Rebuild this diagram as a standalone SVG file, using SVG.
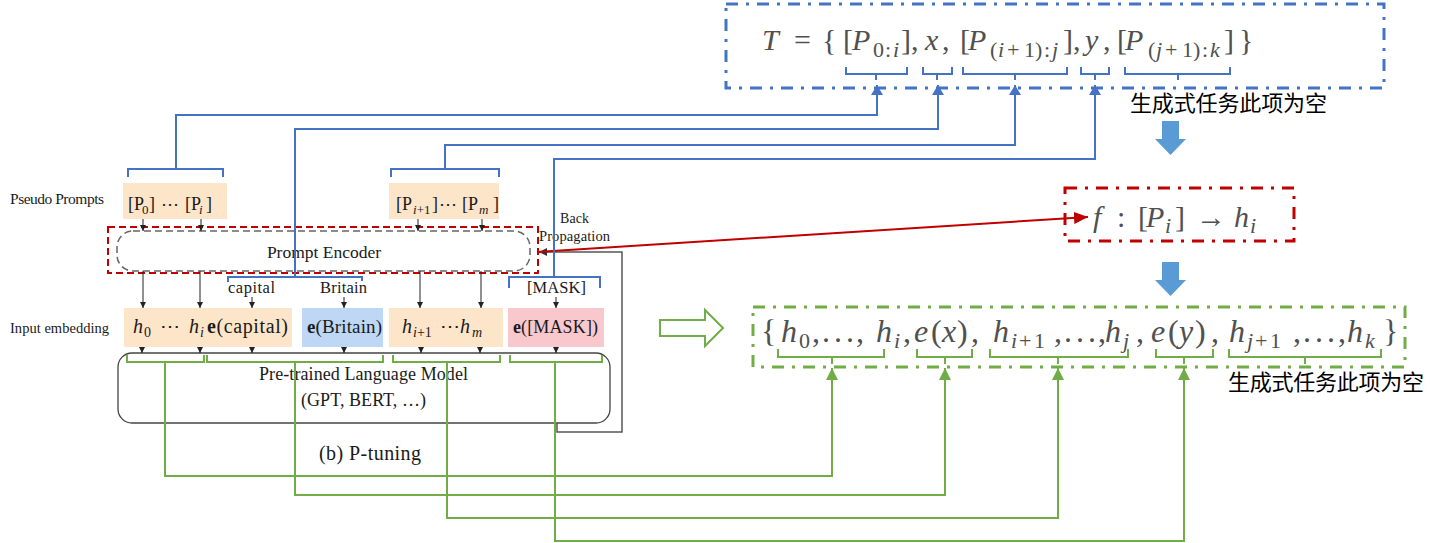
<svg xmlns="http://www.w3.org/2000/svg" width="1443" height="543" viewBox="0 0 1443 543">
<defs>
<style>
.serif{font-family:"Liberation Serif","DejaVu Serif",serif;fill:#1a1a1a}
.math{font-family:"Liberation Serif","DejaVu Serif",serif;fill:#505050}
.it{font-style:italic}
.sb{font-size:22px}
.cjk{font-family:"Noto Sans CJK SC",sans-serif;font-size:22px;fill:#000}
.blue{stroke:#4472c4;stroke-width:2;fill:none}
.green{stroke:#70ad47;stroke-width:2;fill:none}
.blk{stroke:#222;stroke-width:1;fill:none}
.dd{stroke-width:3;fill:none;stroke-dasharray:12 8 3 8}
</style>
<marker id="ab" viewBox="0 0 10 12" refX="10" refY="6" markerWidth="10" markerHeight="12" markerUnits="userSpaceOnUse" orient="auto"><path d="M0,0L10,6L0,12z" fill="#4472c4"/></marker>
<marker id="ag" viewBox="0 0 12 12" refX="12" refY="6" markerWidth="12" markerHeight="12" markerUnits="userSpaceOnUse" orient="auto"><path d="M0,0L12,6L0,12z" fill="#70ad47"/></marker>
<marker id="ak" viewBox="0 0 6 6" refX="6" refY="3" markerWidth="6" markerHeight="6" markerUnits="userSpaceOnUse" orient="auto"><path d="M0,0L6,3L0,6z" fill="#222"/></marker>
<marker id="ar" viewBox="0 0 14 12" refX="14" refY="6" markerWidth="14" markerHeight="12" markerUnits="userSpaceOnUse" orient="auto"><path d="M0,0L14,6L0,12z" fill="#c00000"/></marker>
<marker id="ag2" viewBox="0 0 8 8" refX="8" refY="4" markerWidth="8" markerHeight="8" markerUnits="userSpaceOnUse" orient="auto"><path d="M0,0L8,4L0,8z" fill="#333"/></marker>
</defs>
<rect width="1443" height="543" fill="#fff"/>

<!-- Top formula node -->
<g id="template-T">
<rect x="726" y="4" width="658" height="84" stroke="#4472c4" class="dd"/>
<text class="math" font-size="30"><tspan x="762" y="50" class="it">T</tspan><tspan x="794" y="50">=</tspan><tspan x="822" y="50">{</tspan><tspan x="843" y="50">[</tspan><tspan x="852" y="50" class="it">P</tspan><tspan x="873" y="57" class="sb">0</tspan><tspan x="885" y="57" class="sb">:</tspan><tspan x="893" y="57" class="sb it">i</tspan><tspan x="901" y="50">]</tspan><tspan x="911" y="50">,</tspan><tspan x="925" y="50" class="it">x</tspan><tspan x="942" y="50">,</tspan><tspan x="960" y="50">[</tspan><tspan x="968" y="50" class="it">P</tspan><tspan x="990" y="57" class="sb">(</tspan><tspan x="998" y="57" class="sb it">i</tspan><tspan x="1007" y="57" class="sb">+</tspan><tspan x="1024" y="57" class="sb">1</tspan><tspan x="1035" y="57" class="sb">)</tspan><tspan x="1044" y="57" class="sb">:</tspan><tspan x="1052" y="57" class="sb it">j</tspan><tspan x="1063" y="50">]</tspan><tspan x="1073" y="50">,</tspan><tspan x="1085" y="50" class="it">y</tspan><tspan x="1103" y="50">,</tspan><tspan x="1117" y="50">[</tspan><tspan x="1125" y="50" class="it">P</tspan><tspan x="1148" y="57" class="sb">(</tspan><tspan x="1156" y="57" class="sb it">j</tspan><tspan x="1165" y="57" class="sb">+</tspan><tspan x="1182" y="57" class="sb">1</tspan><tspan x="1193" y="57" class="sb">)</tspan><tspan x="1202" y="57" class="sb">:</tspan><tspan x="1210" y="57" class="sb it">k</tspan><tspan x="1224" y="50">]</tspan><tspan x="1239" y="50">}</tspan></text>
<path class="blue" d="M846,67V74H907V67M876,74V80M923,67V74H952V67M937,74V80M963,67V74H1067V67M1015,74V80M1081,67V74H1109V67M1095,74V80M1125,67V74H1230V67M1178,74V80"/>
</g>

<g id="note-1"><text class="cjk" x="1130" y="111" textLength="197">生成式任务此项为空</text></g>
<g id="down-arrow-1"><polygon points="1162,121 1179,121 1179,139 1186,139 1170.5,155 1155,139 1162,139" fill="#5b9bd5"/></g>

<!-- f node -->
<g id="encoder-f">
<rect x="1065" y="188" width="229" height="53" stroke="#c00000" class="dd"/>
<text class="math" font-size="30"><tspan x="1093" y="227" class="it">f</tspan><tspan x="1117" y="227">:</tspan><tspan x="1138" y="227">[</tspan><tspan x="1146" y="227" class="it">P</tspan><tspan x="1165" y="233" class="sb it">i</tspan><tspan x="1175" y="227">]</tspan><tspan x="1196" y="227">→</tspan><tspan x="1234" y="227" class="it">h</tspan><tspan x="1250" y="233" class="sb it">i</tspan></text>
</g>

<g id="down-arrow-2"><polygon points="1162,262 1179,262 1179,280 1186,280 1170.5,296 1155,280 1162,280" fill="#5b9bd5"/></g>

<!-- hollow arrow -->
<g id="implies-arrow"><polygon points="660,320 705,320 705,310 723,328 705,346 705,336 660,336" fill="#fff" stroke="#70ad47" stroke-width="2"/></g>

<!-- h sequence node -->
<g id="h-sequence">
<rect x="753" y="307" width="652" height="60" stroke="#70ad47" class="dd"/>
<text class="math" font-size="32"><tspan x="761" y="342">{</tspan><tspan x="781" y="342" class="it">h</tspan><tspan x="799" y="348" class="sb">0</tspan><tspan x="812" y="342">,</tspan><tspan x="822" y="342">.</tspan><tspan x="834" y="342">.</tspan><tspan x="846" y="342">.</tspan><tspan x="856" y="342">,</tspan><tspan x="876" y="342" class="it">h</tspan><tspan x="894" y="348" class="sb it">i</tspan><tspan x="903" y="342">,</tspan><tspan x="914" y="342" class="it">e</tspan><tspan x="931" y="342">(</tspan><tspan x="942" y="342" class="it">x</tspan><tspan x="957" y="342">)</tspan><tspan x="971" y="342">,</tspan><tspan x="993" y="342" class="it">h</tspan><tspan x="1011" y="348" class="sb it">i</tspan><tspan x="1019" y="348" class="sb">+</tspan><tspan x="1034" y="348" class="sb">1</tspan><tspan x="1054" y="342">,</tspan><tspan x="1064" y="342">.</tspan><tspan x="1076" y="342">.</tspan><tspan x="1088" y="342">.</tspan><tspan x="1098" y="342">,</tspan><tspan x="1105" y="342" class="it">h</tspan><tspan x="1123" y="348" class="sb it">j</tspan><tspan x="1136" y="342">,</tspan><tspan x="1151" y="342" class="it">e</tspan><tspan x="1168" y="342">(</tspan><tspan x="1179" y="342" class="it">y</tspan><tspan x="1195" y="342">)</tspan><tspan x="1211" y="342">,</tspan><tspan x="1229" y="342" class="it">h</tspan><tspan x="1247" y="348" class="sb it">j</tspan><tspan x="1255" y="348" class="sb">+</tspan><tspan x="1270" y="348" class="sb">1</tspan><tspan x="1293" y="342">,</tspan><tspan x="1303" y="342">.</tspan><tspan x="1315" y="342">.</tspan><tspan x="1327" y="342">.</tspan><tspan x="1338" y="342">,</tspan><tspan x="1347" y="342" class="it">h</tspan><tspan x="1365" y="348" class="sb it">k</tspan><tspan x="1383" y="342">}</tspan></text>
<path class="green" d="M778,349V357H884V349M832,357V364M917,349V357H972V349M945,357V364M990,349V357H1128V349M1058,357V364M1156,349V357H1213V349M1184,357V364M1229,349V357H1381V349M1305,357V364"/>
</g>
<g id="note-2"><text class="cjk" x="1228" y="390" textLength="196">生成式任务此项为空</text></g>

<!-- Left P-tuning diagram -->
<g id="label-pseudo"><text class="serif" x="10" y="204" font-size="15.5" textLength="94">Pseudo Prompts</text></g>
<g id="label-input"><text class="serif" x="10" y="333" font-size="14.5" textLength="99">Input embedding</text></g>

<g id="prompts-left">
<rect x="123" y="183" width="104" height="36" fill="#fde5c9"/>
<text class="serif" font-size="18" y="210"><tspan x="128">[P</tspan><tspan x="142" y="214" font-size="13">0</tspan><tspan x="149" y="210">]</tspan><tspan x="161" y="210">⋯</tspan><tspan x="185" y="210">[P</tspan><tspan x="199" y="214" font-size="13" font-style="italic">i</tspan><tspan x="206" y="210">]</tspan></text>
</g>
<g id="prompts-right">
<rect x="389" y="183" width="110" height="36" fill="#fde5c9"/>
<text class="serif" font-size="18" y="210"><tspan x="396">[P</tspan><tspan x="413" y="214" font-size="13"><tspan font-style="italic">i</tspan>+1</tspan><tspan x="432" y="210">]</tspan><tspan x="439" y="210">⋯</tspan><tspan x="462" y="210">[P</tspan><tspan x="479" y="214" font-size="13" font-style="italic">m</tspan><tspan x="493" y="210">]</tspan></text>
</g>

<g id="prompt-encoder">
<rect x="108" y="227" width="430" height="46" fill="none" stroke="#c00000" stroke-width="2" stroke-dasharray="7 4"/>
<rect x="117" y="231" width="413" height="40" rx="16" fill="none" stroke="#666" stroke-width="1.5" stroke-dasharray="7 4"/>
<text class="serif" x="324" y="258" font-size="17.5" text-anchor="middle">Prompt Encoder</text>
</g>

<g id="label-capital"><text class="serif" x="228" y="293" font-size="16.5" textLength="47">capital</text></g>
<g id="label-britain"><text class="serif" x="320" y="293" font-size="16.5" textLength="47">Britain</text></g>
<g id="label-mask"><text class="serif" x="527" y="293" font-size="16.5" textLength="59">[MASK]</text></g>
<g id="label-backprop">
<text class="serif" x="560" y="223" font-size="14" textLength="29">Back</text>
<text class="serif" x="539" y="241" font-size="14.5" textLength="71">Propagation</text>
</g>

<g id="embed-prompt-1">
<rect x="124" y="308" width="168" height="39" fill="#fde5c9"/>
<text class="serif" font-size="20" y="333"><tspan x="133" font-style="italic">h</tspan><tspan x="144" y="337" font-size="14">0</tspan><tspan x="160" y="333">⋯</tspan><tspan x="189" font-style="italic">h</tspan><tspan x="200" y="337" font-size="14" font-style="italic">i</tspan></text>
<text class="serif" x="207" y="333" font-size="20" textLength="81"><tspan font-weight="bold">e</tspan>(capital)</text>
</g>
<g id="embed-britain">
<rect x="302" y="308" width="81" height="39" fill="#bdd7f5"/>
<text class="serif" x="307" y="333" font-size="19" textLength="75"><tspan font-weight="bold">e</tspan>(Britain)</text>
</g>
<g id="embed-prompt-2">
<rect x="389" y="308" width="114" height="39" fill="#fde5c9"/>
<text class="serif" font-size="20" y="333"><tspan x="402" font-style="italic">h</tspan><tspan x="413" y="337" font-size="14"><tspan font-style="italic">i</tspan>+1</tspan><tspan x="440" y="333">⋯</tspan><tspan x="460" font-style="italic">h</tspan><tspan x="472" y="337" font-size="14" font-style="italic">m</tspan></text>
</g>
<g id="embed-mask">
<rect x="508" y="308" width="96" height="39" fill="#f9c8cd"/>
<text class="serif" x="513" y="333" font-size="18" textLength="85"><tspan font-weight="bold">e</tspan>([MASK])</text>
</g>

<g id="plm">
<rect x="118" y="353" width="492" height="70" rx="14" fill="none" stroke="#444" stroke-width="1.3"/>
<text class="serif" x="259" y="380" font-size="18" textLength="209">Pre-trained Language Model</text>
<text class="serif" x="301" y="406" font-size="18" textLength="125">(GPT, BERT, …)</text>
</g>

<g id="caption"><text class="serif" x="319" y="460" font-size="20" textLength="102">(b) P-tuning</text></g>

<!-- connectors -->
<g id="connectors">
<g class="blk" marker-end="url(#ak)">
<path d="M143,219V231"/><path d="M201,219V231"/><path d="M418,219V231"/><path d="M482,219V231"/>
<path d="M143,271V308"/><path d="M200,271V308"/><path d="M420,271V308"/><path d="M481,271V308"/>
<path d="M252,297V308"/><path d="M344,297V308"/><path d="M556,297V308"/>
<path d="M142,347V353"/><path d="M200,347V353"/><path d="M252,347V353"/><path d="M344,347V353"/><path d="M421,347V353"/><path d="M480,347V353"/><path d="M556,347V353"/>
</g>
<path d="M557,423V432H622V252H539" fill="none" stroke="#555" stroke-width="1.5" marker-end="url(#ag2)"/>
<path d="M537,252L1088,217" fill="none" stroke="#c00000" stroke-width="2" marker-end="url(#ar)"/>
<path class="blue" d="M128,177V169H223V177M391,177V169H499V177M228,282V277H362V281M509,288V277H600V288"/>
<path class="blue" d="M176,169V115H877V85" marker-end="url(#ab)"/>
<path class="blue" d="M295,277V129H938V85" marker-end="url(#ab)"/>
<path class="blue" d="M445,169V145H1015V85" marker-end="url(#ab)"/>
<path class="blue" d="M554,277V159H1095V85" marker-end="url(#ab)"/>
<path class="green" d="M127,355V362H204V355M207,355V362H383V355M393,355V362H500V355M510,355V362H602V355"/>
<path class="green" d="M165,362V476H832V368" marker-end="url(#ag)"/>
<path class="green" d="M295,362V495H945V368" marker-end="url(#ag)"/>
<path class="green" d="M447,362V518H1058V368" marker-end="url(#ag)"/>
<path class="green" d="M555,362V541H1184V368" marker-end="url(#ag)"/>
</g>
</svg>
